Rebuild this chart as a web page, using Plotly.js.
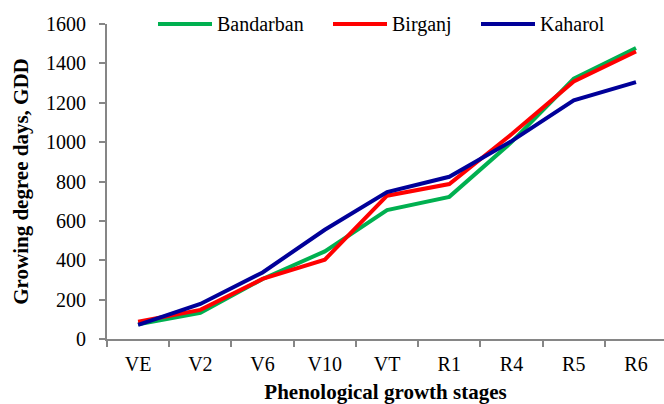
<!DOCTYPE html>
<html>
<head>
<meta charset="utf-8">
<script src="https://cdn.plot.ly/plotly-3.0.1.min.js"></script>
<style>
html,body{margin:0;padding:0;background:#fff;overflow:hidden;}
#chart{width:664px;height:404px;}
</style>
</head>
<body>
<div id="chart"></div>
<script>
// Data
var stages = ["VE", "V2", "V6", "V10", "VT", "R1", "R4", "R5", "R6"];
var seriesNames = ["Bandarban", "Birganj", "Kaharol"];
var bandarban = [75, 133, 305, 445, 655, 722, 1000, 1322, 1478];
var birganj   = [88, 148, 305, 403, 728, 787, 1040, 1308, 1460];
var kaharol   = [72, 178, 338, 555, 746, 824, 1005, 1212, 1305];
var yTicks = [0, 200, 400, 600, 800, 1000, 1200, 1400, 1600];

var colors = ["#00B050", "#FF0000", "#000099"];
var values = [bandarban, birganj, kaharol];

var FONT = "serif";
var W = 664, H = 404;
var mL = 107, mR = 0, mT = 24, mB = 65;
var plotW = W - mL - mR, plotH = H - mT - mB;
function px2paperX(px){ return (px - mL) / plotW; }
function px2paperY(py){ return (H - mB - py) / plotH; }

var traces = values.map(function(v, i){
  return {
    type: "scatter", mode: "lines",
    x: stages, y: v, name: seriesNames[i],
    line: {color: colors[i], width: 4},
    showlegend: false, hoverinfo: "skip"
  };
});

// Custom legend (Excel-style long line samples)
var legLineStart = [158, 333, 481];
var legLen = 54;
var legY = 24;
var shapes = [], annotations = [];
seriesNames.forEach(function(n, i){
  shapes.push({
    type: "line", xref: "paper", yref: "paper",
    x0: px2paperX(legLineStart[i]), x1: px2paperX(legLineStart[i] + legLen),
    y0: px2paperY(legY), y1: px2paperY(legY),
    line: {color: colors[i], width: 4}
  });
  annotations.push({
    xref: "paper", yref: "paper", x: px2paperX(legLineStart[i] + legLen + 3), y: px2paperY(legY),
    xanchor: "left", yanchor: "middle", showarrow: false, text: n,
    font: {family: FONT, size: 20, color: "#000"}
  });
});

var axisColor = "#868686";
var layout = {
  width: W, height: H,
  margin: {l: mL, r: mR, t: mT, b: mB},
  paper_bgcolor: "#fff", plot_bgcolor: "#fff",
  font: {family: FONT, size: 20, color: "#000"},
  showlegend: false,
  xaxis: {
    type: "category", categoryarray: stages, range: [-0.5, 8.45],
    showline: true, linecolor: axisColor, linewidth: 2,
    ticks: "outside", tickson: "boundaries", ticklen: 6, tickwidth: 2, tickcolor: axisColor,
    showgrid: false, zeroline: false, fixedrange: true,
    tickfont: {family: FONT, size: 20, color: "#000"},
    ticklabelstandoff: 6,
    title: {text: "<b>Phenological growth stages</b>", font: {family: FONT, size: 21, color: "#000"}, standoff: 13}
  },
  yaxis: {
    range: [0, 1600], tickvals: yTicks, ticktext: yTicks.map(String),
    showline: true, linecolor: axisColor, linewidth: 2,
    ticks: "outside", ticklen: 6, tickwidth: 2, tickcolor: axisColor,
    showgrid: false, zeroline: false, fixedrange: true,
    tickfont: {family: FONT, size: 20, color: "#000"},
    ticklabelstandoff: 9,
    title: {text: "<b>Growing degree days, GDD</b>", font: {family: FONT, size: 21, color: "#000"}, standoff: 12}
  },
  shapes: shapes,
  annotations: annotations
};

Plotly.newPlot("chart", traces, layout, {staticPlot: true, displayModeBar: false});
</script>
</body>
</html>
